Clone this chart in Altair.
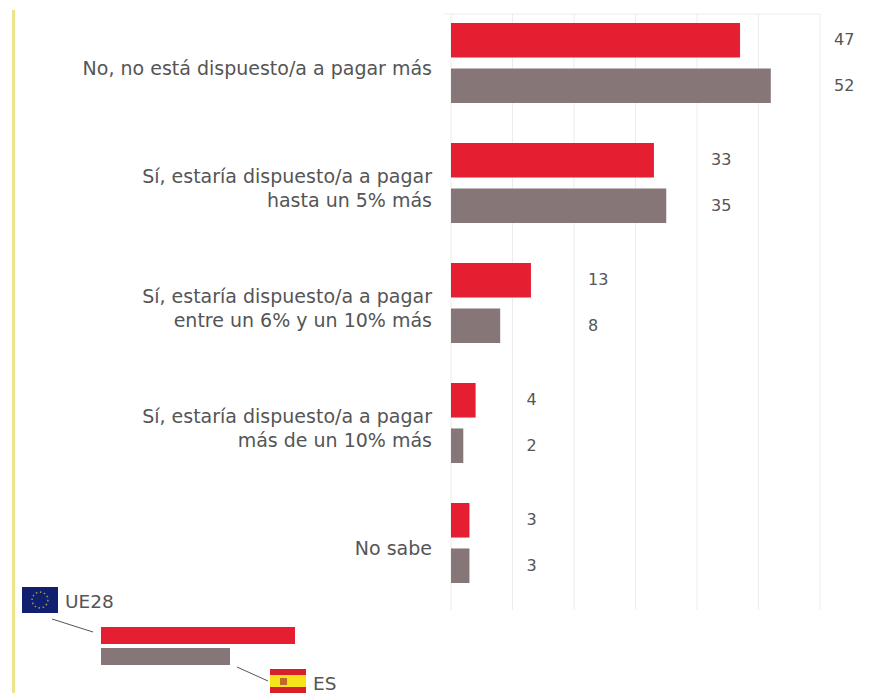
import altair as alt
import pandas as pd

FONT = "DejaVu Sans"
TEXT = "#555555"
RED = "#e51e32"
GREY = "#867678"
GRID = "#ececec"

answers = [
    "No, no está dispuesto/a a pagar más",
    "Sí, estaría dispuesto/a a pagar\nhasta un 5% más",
    "Sí, estaría dispuesto/a a pagar\nentre un 6% y un 10% más",
    "Sí, estaría dispuesto/a a pagar\nmás de un 10% más",
    "No sabe",
]
ue28 = [47, 33, 13, 4, 3]
es = [52, 35, 8, 2, 3]
# Each value label sits just past the next gridline to the right of its bar
label_ticks_ue28 = [60, 40, 20, 10, 10]
label_ticks_es = [60, 40, 20, 10, 10]
ticks = [0, 10, 20, 30, 40, 50, 60]
series = ["UE28", "ES"]

rows = pd.DataFrame(
    {
        "answer": answers * 2,
        "series": ["UE28"] * 5 + ["ES"] * 5,
        "value": ue28 + es,
        "label_at": label_ticks_ue28 + label_ticks_es,
    }
)
category_frame = pd.DataFrame({"answer": answers})
one_line = category_frame[~category_frame["answer"].str.contains("\n")]
two_lines = category_frame[category_frame["answer"].str.contains("\n")]

x_scale = alt.Scale(domain=[0, 60], nice=False)
y_scale = alt.Scale(domain=answers, range=[-11, 589], paddingInner=1 / 3, paddingOuter=1 / 6)
offset = alt.YOffset(
    "series:N",
    sort=series,
    scale=alt.Scale(domain=series, paddingInner=0.24, paddingOuter=0),
)

# Gridlines run the full plot height, independent of the category band range
grid = (
    alt.Chart(pd.DataFrame({"tick": ticks}))
    .mark_rule(color=GRID, strokeWidth=1)
    .encode(
        x=alt.X("tick:Q", scale=x_scale, axis=None),
        y=alt.value(0),
        y2=alt.value(596),
    )
)

bars = (
    alt.Chart(rows)
    .mark_bar(cornerRadius=0)
    .encode(
        x=alt.X("value:Q", scale=x_scale, axis=None),
        y=alt.Y("answer:N", sort=answers, scale=y_scale, axis=None),
        yOffset=offset,
        color=alt.Color(
            "series:N",
            scale=alt.Scale(domain=series, range=[RED, GREY]),
            legend=None,
        ),
    )
)

values = (
    alt.Chart(rows)
    .mark_text(align="left", baseline="middle", dx=14, font=FONT, fontSize=16, color=TEXT)
    .encode(
        x=alt.X("label_at:Q", scale=x_scale),
        y=alt.Y("answer:N", sort=answers, scale=y_scale),
        yOffset=offset,
        text=alt.Text("value:Q"),
    )
)


def category_labels(frame, shift):
    return (
        alt.Chart(frame)
        .mark_text(
            align="right",
            baseline="middle",
            lineBreak="\n",
            lineHeight=24,
            dx=-19,
            dy=shift,
            font=FONT,
            fontSize=19,
            color=TEXT,
        )
        .encode(
            x=alt.datum(0, scale=x_scale),
            y=alt.Y("answer:N", sort=answers, scale=y_scale),
            text="answer:N",
        )
    )


# Hand-drawn key below the plot: pixel positions are relative to the plot origin
ORIGIN_X, ORIGIN_Y = 451, 14
one = pd.DataFrame({"k": [0]})


def box(x0, x1, y0, y1, fill):
    return (
        alt.Chart(one)
        .mark_rect(color=fill)
        .encode(
            x=alt.value(x0 - ORIGIN_X),
            x2=alt.value(x1 - ORIGIN_X),
            y=alt.value(y0 - ORIGIN_Y),
            y2=alt.value(y1 - ORIGIN_Y),
        )
    )


def leader(x0, y0, x1, y1, stroke="#555555"):
    return (
        alt.Chart(one)
        .mark_rule(color=stroke, strokeWidth=1)
        .encode(
            x=alt.value(x0 - ORIGIN_X),
            x2=alt.value(x1 - ORIGIN_X),
            y=alt.value(y0 - ORIGIN_Y),
            y2=alt.value(y1 - ORIGIN_Y),
        )
    )


def caption(x, y, text):
    return (
        alt.Chart(one)
        .mark_text(align="left", baseline="middle", font=FONT, fontSize=18.5, color=TEXT, text=text)
        .encode(x=alt.value(x - ORIGIN_X), y=alt.value(y - ORIGIN_Y))
    )


top_line = leader(444, 14, 820, 14, GRID)

eu_stars = (
    alt.Chart(one)
    .mark_point(shape="circle", size=250, filled=False, stroke="#d8c84a", strokeWidth=1.6, strokeDash=[1.5, 2.6])
    .encode(x=alt.value(40 - ORIGIN_X), y=alt.value(600 - ORIGIN_Y))
)

key = [
    box(12, 15, 10, 693, "#eee48f"),
    box(101, 295, 627, 644, RED),
    box(101, 230, 648, 665, GREY),
    leader(52, 619, 93, 632),
    leader(237, 667, 268, 681),
    box(22, 58, 587, 613, "#10206e"),
    eu_stars,
    box(270, 306, 669, 693, "#d8202a"),
    box(270, 306, 675, 687, "#f7e31a"),
    box(280, 287, 678, 685, "#c06a2a"),
    caption(65, 602, "UE28"),
    caption(313, 684, "ES"),
]

chart = (
    alt.layer(grid, top_line, bars, values, category_labels(one_line, 6), category_labels(two_lines, -6), *key)
    .resolve_scale(x="shared", y="shared")
    .properties(
        width=369,
        height=596,
        padding={"left": 451, "top": 14, "right": 63, "bottom": 83},
        autosize=alt.AutoSizeParams(type="none"),
        background="#ffffff",
    )
    .configure_view(stroke=None)
)

chart.save("out.html", embed_options={"renderer": "svg", "actions": False})
